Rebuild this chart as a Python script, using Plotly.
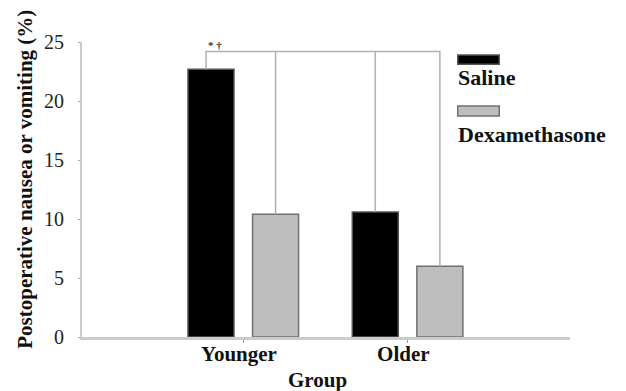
import plotly.graph_objects as go

groups = ["Younger", "Older"]
saline = [22.7, 10.6]
dexa = [10.4, 6.0]
series_names = ["Saline", "Dexamethasone"]
bracket_level = 24.2
sig_label = "* †"
y_ticks = [0, 5, 10, 15, 20, 25]
x_title = "Group"
y_title = "Postoperative nausea or vomiting (%)"

xpos = list(range(len(groups)))
bar_w = 0.28
off_s = -0.335
off_d = 0.058

SERIF = "Liberation Serif"

fig = go.Figure()
fig.add_trace(go.Bar(x=xpos, y=saline, name=series_names[0], offset=off_s, width=bar_w,
                     marker=dict(color="#000000", line=dict(color="#555555", width=1.5))))
fig.add_trace(go.Bar(x=xpos, y=dexa, name=series_names[1], offset=off_d, width=bar_w,
                     marker=dict(color="#bebebe", line=dict(color="#707070", width=1.5))))

# bracket connecting the bar tops
cs = [x + off_s + bar_w / 2 for x in xpos]
cd = [x + off_d + bar_w / 2 for x in xpos]
x0, x1, x2, x3 = cs[0] - 0.03, cd[0], cs[1], cd[1]
bx = [x0, x0, x3, x3, None, x1, x1, None, x2, x2]
by = [saline[0], bracket_level, bracket_level, dexa[1], None,
      bracket_level, dexa[0], None, bracket_level, saline[1]]
fig.add_trace(go.Scatter(x=bx, y=by, mode="lines", line=dict(color="#b0b0b0", width=1.5),
                         hoverinfo="skip", showlegend=False))

fig.add_annotation(x=x0, y=bracket_level, xref="x", yref="y", text=sig_label,
                   showarrow=False, xanchor="left", yanchor="bottom", xshift=0, yshift=-2,
                   font=dict(family=SERIF, size=11, color="#333333", weight="bold"))

# custom legend: swatch above label
leg = [(series_names[0], "#000000", "#555555", 0.956, 0.925, 0.878),
       (series_names[1], "#bebebe", "#707070", 0.783, 0.749, 0.685)]
for name, fc, lc, yt, yb, ty in leg:
    fig.add_shape(type="rect", xref="paper", yref="paper", x0=0.770, x1=0.855, y0=yb, y1=yt,
                  fillcolor=fc, line=dict(color=lc, width=1.5))
    fig.add_annotation(x=0.766, y=ty, xref="paper", yref="paper", text=name, showarrow=False,
                       xanchor="left", yanchor="middle",
                       font=dict(family=SERIF, size=22, color="#111111", weight="bold"))

# axis titles as text annotations
fig.add_annotation(x=-0.117, y=0.536, xref="paper", yref="paper", text=y_title,
                   showarrow=False, textangle=-90, xanchor="center", yanchor="middle",
                   font=dict(family=SERIF, size=21, color="#111111", weight="bold"))
fig.add_annotation(x=0.482, y=-0.146, xref="paper", yref="paper", text=x_title,
                   showarrow=False, xanchor="center", yanchor="middle",
                   font=dict(family=SERIF, size=21, color="#111111", weight="bold"))

fig.update_layout(
    width=618, height=383,
    margin=dict(l=74, r=56, t=34, b=54),
    plot_bgcolor="white", paper_bgcolor="white",
    showlegend=False, barmode="overlay",
    xaxis=dict(range=[-0.98, 1.99], tickvals=xpos, ticktext=groups, showline=True,
               automargin=False, ticklabelshift=-4,
               linecolor="#cccccc", linewidth=2.5, ticks="outside", ticklen=3, tickcolor="#999999",
               showgrid=False, zeroline=False, ticklabelstandoff=-7,
               tickfont=dict(family=SERIF, size=21, color="#111111", weight="bold")),
    yaxis=dict(range=[0, 25], tickvals=y_ticks, showline=True, linecolor="#cccccc", linewidth=2,
               automargin=False,
               ticks="outside", ticklen=2, tickcolor="#aaaaaa", showgrid=False, zeroline=False,
               ticklabelstandoff=10,
               tickfont=dict(family=SERIF, size=20, color="#222222")),
)

fig.write_html("out.html")
